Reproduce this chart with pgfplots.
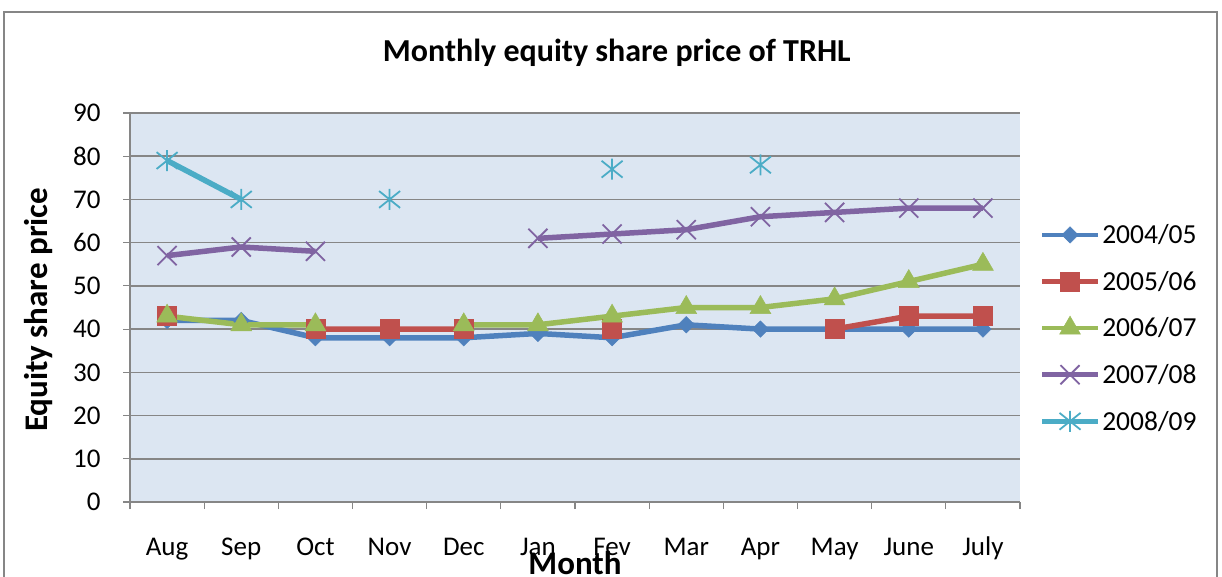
\documentclass[border=0pt]{standalone}
\usepackage{fontspec}
\setmainfont{Carlito}
\usepackage{pgfplots}
\pgfplotsset{compat=1.18}
\usepackage{pgfplotstable}
\definecolor{bgblue}{RGB}{220,230,242}
\definecolor{gridgray}{RGB}{134,134,134}
\definecolor{axgray}{RGB}{134,134,134}
\definecolor{cA}{RGB}{79,129,189}
\definecolor{cB}{RGB}{192,80,77}
\definecolor{cC}{RGB}{155,187,89}
\definecolor{cD}{RGB}{128,100,162}
\definecolor{cE}{RGB}{75,172,198}
\pgfdeclareplotmark{xstar}{%
  \pgfpathmoveto{\pgfqpoint{-\pgfplotmarksize}{-0.8\pgfplotmarksize}}%
  \pgfpathlineto{\pgfqpoint{\pgfplotmarksize}{0.8\pgfplotmarksize}}%
  \pgfpathmoveto{\pgfqpoint{-\pgfplotmarksize}{0.8\pgfplotmarksize}}%
  \pgfpathlineto{\pgfqpoint{\pgfplotmarksize}{-0.8\pgfplotmarksize}}%
  \pgfpathmoveto{\pgfqpoint{0pt}{-\pgfplotmarksize}}%
  \pgfpathlineto{\pgfqpoint{0pt}{\pgfplotmarksize}}%
  \pgfusepathqstroke}
\pgfplotstableread{
x a b c d e
0 42 43 43 57 79
1 42 nan 41 59 70
2 38 40 41 58 nan
3 38 40 nan nan 70
4 38 40 41 nan nan
5 39 nan 41 61 nan
6 38 40 43 62 77
7 41 nan 45 63 nan
8 40 nan 45 66 78
9 40 40 47 67 nan
10 40 43 51 68 nan
11 40 43 55 68 nan
}\datatable
\begin{document}
\begin{tikzpicture}
\path[use as bounding box] (0pt,0pt) rectangle (1222pt,-577pt);
\draw[axgray, line width=1.5pt] (4pt,-590pt) -- (4pt,-12pt) -- (1217pt,-12pt) -- (1217pt,-590pt);
\begin{axis}[
  at={(130pt,-502pt)}, anchor=south west,
  scale only axis, width=890pt, height=389pt,
  xmin=-0.5, xmax=11.5, ymin=0, ymax=90,
  axis background/.style={fill=bgblue},
  axis x line*=bottom, axis y line*=left,
  axis line style={draw=axgray, line width=1.5pt, -},
  xtick={-0.5,0.5,...,11.5}, xticklabels={},
  extra x ticks={0,...,11},
  extra x tick labels={Aug,Sep,Oct,Nov,Dec,Jan,Fev,Mar,Apr,May,June,July},
  extra x tick style={major tick length=0pt, grid=none, tick label style={yshift=-31pt, text height=19pt, text depth=6pt}},
  ytick={0,10,...,90},
  ymajorgrids, grid style={draw=gridgray, line width=1.5pt},
  tick align=outside, major tick length=7pt,
  tick style={draw=axgray, line width=1.2pt},
  /pgf/number format/assume math mode=true,
  tick label style={font=\fontsize{27}{30}\selectfont},
  yticklabel style={xshift=-19pt},
  title={Monthly equity share price of TRHL},
  title style={font=\bfseries\fontsize{32}{36}\selectfont, at={(axis description cs:0.547,1.14)}, anchor=center},
  xlabel={Month},
  xlabel style={font=\bfseries\fontsize{33}{36}\selectfont, at={(axis description cs:0.5,-0.157)}, anchor=center},
  ylabel={Equity share price},
  ylabel style={font=\bfseries\fontsize{33}{36}\selectfont, at={(axis description cs:-0.103,0.494)}, anchor=center},
  unbounded coords=jump,
  every axis plot/.append style={line width=5.5pt},
  legend style={at={(axis description cs:1.022,0.447)}, anchor=west, draw=none, fill=none,
    font=\fontsize{27.5}{30}\selectfont, row sep=22pt, inner sep=0pt},
  legend cell align=left,
  legend image code/.code={\draw[#1, line width=4.5pt, mark repeat=2, mark phase=2] plot coordinates {(0pt,0pt) (28pt,0pt) (56pt,0pt)};},
]
\addplot[cA, mark=square*, mark size=5.8pt, mark options={rotate=45, solid, line width=0.5pt, fill=cA}] table[x=x,y=a]{\datatable};
\addlegendentry{2004/05}
\addplot[cB, mark=square*, mark size=9.5pt, mark options={solid, line width=0.5pt, fill=cB}] table[x=x,y=b]{\datatable};
\addlegendentry{2005/06}
\addplot[cC, mark=triangle*, mark size=12pt, mark options={solid, line width=0.5pt, fill=cC}] table[x=x,y=c]{\datatable};
\addlegendentry{2006/07}
\addplot[cD, mark=x, mark size=13.5pt, mark options={solid, line width=1.8pt}] table[x=x,y=d]{\datatable};
\addlegendentry{2007/08}
\addplot[cE, mark=xstar, mark size=10.5pt, mark options={solid, line width=1.8pt}] table[x=x,y=e]{\datatable};
\addlegendentry{2008/09}
\end{axis}
\end{tikzpicture}
\end{document}
